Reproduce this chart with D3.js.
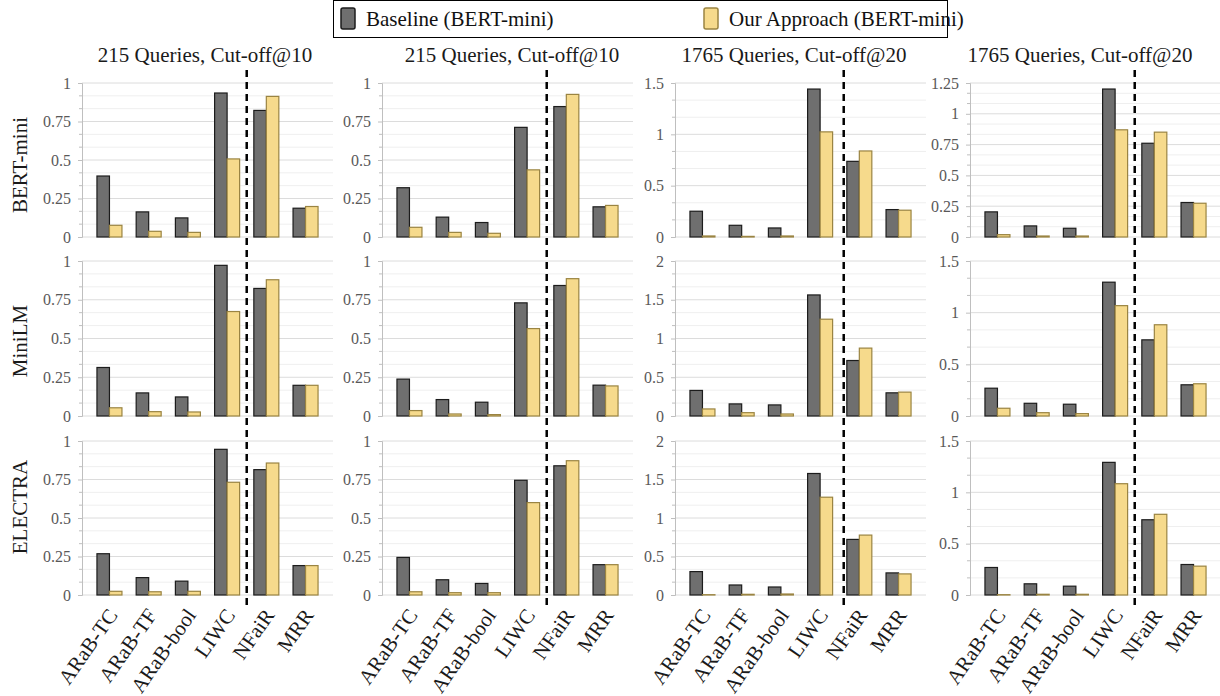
<!DOCTYPE html>
<html>
<head>
<meta charset="utf-8">
<script src="https://cdn.jsdelivr.net/npm/d3@7"></script>
<style>
  html, body { margin: 0; padding: 0; background: #fff; }
  svg { display: block; font-family: "Liberation Serif", "Times New Roman", serif; }
  svg text { font-family: "Liberation Serif", "Times New Roman", serif; }
</style>
</head>
<body>
<svg id="chart" width="1220" height="696"></svg>
<script>
// ---- data ----
const metrics = ["ARaB-TC", "ARaB-TF", "ARaB-bool", "LIWC", "NFaiR", "MRR"];
const models = ["BERT-mini", "MiniLM", "ELECTRA"];
const settings = ["215 Queries, Cut-off@10", "215 Queries, Cut-off@10", "1765 Queries, Cut-off@20", "1765 Queries, Cut-off@20"];
const seriesNames = ["Baseline (BERT-mini)", "Our Approach (BERT-mini)"];

// y-axis maximum and tick step per panel [row][col]
const yMax = [[1, 1, 1.5, 1.25], [1, 1, 2, 1.5], [1, 1, 2, 1.5]];
const yStep = [[0.25, 0.25, 0.5, 0.25], [0.25, 0.25, 0.5, 0.5], [0.25, 0.25, 0.5, 0.5]];

// baseline values [row][col][metric]
const baseline = [
  [
    [0.396, 0.163, 0.124, 0.935, 0.822, 0.187],
    [0.320, 0.129, 0.094, 0.712, 0.847, 0.196],
    [0.251, 0.114, 0.088, 1.441, 0.737, 0.267],
    [0.204, 0.090, 0.071, 1.201, 0.761, 0.280]
  ],
  [
    [0.313, 0.149, 0.123, 0.972, 0.823, 0.198],
    [0.238, 0.106, 0.089, 0.730, 0.842, 0.199],
    [0.330, 0.156, 0.143, 1.562, 0.716, 0.299],
    [0.269, 0.123, 0.114, 1.295, 0.737, 0.302]
  ],
  [
    [0.268, 0.113, 0.090, 0.946, 0.814, 0.191],
    [0.244, 0.099, 0.075, 0.745, 0.839, 0.197],
    [0.304, 0.130, 0.104, 1.578, 0.722, 0.287],
    [0.268, 0.109, 0.086, 1.292, 0.733, 0.297]
  ]
];

// our approach values [row][col][metric]
const ours = [
  [
    [0.076, 0.037, 0.030, 0.507, 0.913, 0.198],
    [0.063, 0.030, 0.024, 0.436, 0.926, 0.205],
    [0.010, 0.006, 0.010, 1.024, 0.838, 0.261],
    [0.019, 0.008, 0.008, 0.870, 0.851, 0.274]
  ],
  [
    [0.053, 0.028, 0.026, 0.674, 0.879, 0.198],
    [0.035, 0.013, 0.009, 0.564, 0.886, 0.194],
    [0.091, 0.043, 0.026, 1.249, 0.876, 0.308],
    [0.075, 0.032, 0.023, 1.068, 0.883, 0.312]
  ],
  [
    [0.024, 0.021, 0.024, 0.732, 0.857, 0.191],
    [0.021, 0.015, 0.015, 0.600, 0.872, 0.197],
    [0.004, 0.009, 0.013, 1.270, 0.778, 0.274],
    [0.003, 0.007, 0.007, 1.084, 0.786, 0.281]
  ]
];

// ---- layout ----
const colX = [[82, 333], [382, 633], [675, 926], [970, 1221]];
const rowY = [[83, 237], [261, 416], [441, 595]];
const titleX = [205, 512, 794, 1080];
const titleY = 62;
const rowLabelY = [165, 341, 507];
const sepShift = [0, 0, 4, 0];
const barW = 12.5;
const colors = { base: "#6f6f6f", baseStroke: "#1c1c1c", ours: "#f6da8c", oursStroke: "#9a8442" };

const svg = d3.select("#chart");
const fmt = v => d3.format("~g")(+v.toFixed(4));

// legend
const legend = svg.append("g");
legend.append("rect").attr("x", 333.5).attr("y", 0.5).attr("width", 614).attr("height", 37)
  .attr("fill", "#fff").attr("stroke", "#000").attr("stroke-width", 1);
const legItems = [
  { name: seriesNames[0], x: 341, fill: colors.base, stroke: colors.baseStroke },
  { name: seriesNames[1], x: 704, fill: colors.ours, stroke: colors.oursStroke }
];
legItems.forEach(it => {
  legend.append("rect").attr("x", it.x).attr("y", 8).attr("width", 14).attr("height", 21).attr("rx", 2)
    .attr("fill", it.fill).attr("stroke", it.stroke).attr("stroke-width", 1.5);
  legend.append("text").attr("x", it.x + 25).attr("y", 26).attr("font-size", 21).attr("fill", "#111").text(it.name);
});

// column titles
settings.forEach((s, c) => {
  svg.append("text").attr("x", titleX[c]).attr("y", titleY).attr("text-anchor", "middle")
    .attr("font-size", 21).attr("fill", "#1a1a1a").text(s);
});

// row labels
models.forEach((m, r) => {
  svg.append("text").attr("transform", `translate(27,${rowLabelY[r]}) rotate(-90)`)
    .attr("text-anchor", "middle").attr("font-size", 21).attr("fill", "#1a1a1a").text(m);
});

// panels
models.forEach((m, r) => {
  settings.forEach((s, c) => {
    const [x0, x1] = colX[c];
    const [yTop, yBot] = rowY[r];
    const x = d3.scalePoint().domain(metrics).range([x0, x1]).padding(0.7);
    const y = d3.scaleLinear().domain([0, yMax[r][c]]).range([yBot, yTop]);
    const g = svg.append("g");

    const step = yStep[r][c];
    const nMaj = Math.round(yMax[r][c] / step);
    const major = d3.range(0, nMaj + 1).map(i => i * step);
    const minor = d3.range(0, nMaj * 3 + 1).filter(i => i % 3 !== 0).map(i => i * step / 3);

    // gridlines
    g.selectAll(".minor").data(minor).join("line")
      .attr("x1", x0).attr("x2", x1).attr("y1", d => y(d)).attr("y2", d => y(d))
      .attr("stroke", "#efefef").attr("stroke-width", 1);
    g.selectAll(".major").data(major).join("line")
      .attr("x1", x0).attr("x2", x1).attr("y1", d => y(d)).attr("y2", d => y(d))
      .attr("stroke", "#dcdcdc").attr("stroke-width", 1);

    // y axis
    const axis = d3.axisLeft(y).tickValues(major).tickFormat(fmt).tickSize(4).tickPadding(7);
    const ag = g.append("g").attr("transform", `translate(${x0},0)`).call(axis)
      .attr("font-family", null).attr("font-size", null);
    ag.select(".domain").attr("stroke", "#bfbfbf");
    ag.selectAll(".tick line").attr("stroke", "#bfbfbf");
    ag.selectAll(".tick text").style("font-size", "16px").attr("fill", "#595959")
      .style("font-family", "'Liberation Serif', serif");
    g.append("g").selectAll("line").data(minor).join("line")
      .attr("x1", x0 - 3).attr("x2", x0).attr("y1", d => y(d)).attr("y2", d => y(d))
      .attr("stroke", "#bfbfbf");

    // bars
    metrics.forEach((k, i) => {
      const cx = x(k);
      const b = baseline[r][c][i], o = ours[r][c][i];
      g.append("rect").attr("x", cx - barW).attr("y", y(b)).attr("width", barW)
        .attr("height", y(0) - y(b)).attr("fill", colors.base)
        .attr("stroke", colors.baseStroke).attr("stroke-width", 1.2);
      g.append("rect").attr("x", cx).attr("y", y(o)).attr("width", barW)
        .attr("height", y(0) - y(o)).attr("fill", colors.ours)
        .attr("stroke", colors.oursStroke).attr("stroke-width", 1.2);
    });

    // metric labels on bottom row
    if (r === models.length - 1) {
      metrics.forEach(k => {
        svg.append("text").attr("transform", `translate(${x(k) + 3},611) rotate(-55)`)
          .attr("text-anchor", "end").attr("dy", "0.35em").attr("font-size", 21)
          .attr("fill", "#1a1a1a").text(k);
      });
    }

    // dashed separator between LIWC and NFaiR (drawn once per column)
    if (r === 0) {
      const sx = (x("LIWC") + x("NFaiR")) / 2 + sepShift[c];
      svg.append("line").attr("class", "sep").attr("x1", sx).attr("x2", sx).attr("y1", 70).attr("y2", 606)
        .attr("stroke", "#000").attr("stroke-width", 2.5).attr("stroke-dasharray", "7,5");
    }
  });
});
// keep separators above bars
svg.selectAll(".sep").raise();
</script>
</body>
</html>
